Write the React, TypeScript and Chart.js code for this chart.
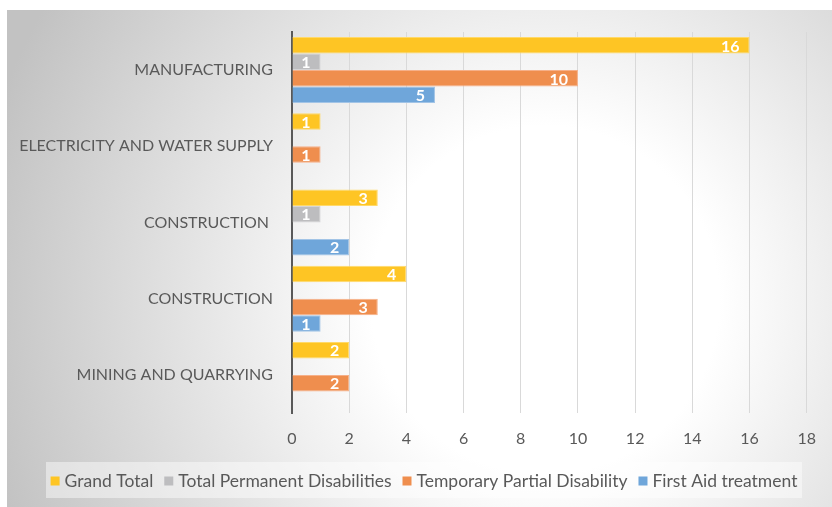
import React, { useEffect, useRef } from "react";
import { Chart, registerables } from "chart.js";

Chart.register(...registerables);

const categories = [
  "MANUFACTURING",
  "ELECTRICITY AND WATER SUPPLY",
  "CONSTRUCTION ",
  "CONSTRUCTION",
  "MINING AND QUARRYING",
];
const seriesNames = [
  "Grand Total",
  "Total Permanent Disabilities",
  "Temporary Partial Disability",
  "First Aid treatment",
];
const grandTotal = [16, 1, 3, 4, 2];
const totalPermanent = [1, null, 1, null, null];
const temporaryPartial = [10, 1, null, 3, 2];
const firstAid = [5, null, 2, 1, null];
const xTicks = [0, 2, 4, 6, 8, 10, 12, 14, 16, 18];

const colors = ["#FEC524", "#BDBDBF", "#EF8E4E", "#6FA6DA"];
const borders = ["#FFD969", "#D4D4D6", "#F6B089", "#A2C4E6"];
const FONT = "Lato, 'Open Sans', sans-serif";

const bgPlugin = {
  id: "bg",
  beforeDraw(chart: any) {
    const { ctx, width, height } = chart;
    ctx.save();
    ctx.fillStyle = "#ffffff";
    ctx.fillRect(0, 0, width, height);
    const x0 = 7, y0 = 10;
    const g = ctx.createRadialGradient(545, 300, 0, 545, 300, 580);
    g.addColorStop(0, "#ffffff");
    g.addColorStop(0.3, "#ffffff");
    g.addColorStop(1, "#c2c2c2");
    ctx.fillStyle = g;
    ctx.fillRect(x0, y0, width - x0, height - y0);
    ctx.restore();
  },
};

const labelPlugin = {
  id: "barLabels",
  afterDatasetsDraw(chart: any) {
    const { ctx } = chart;
    ctx.save();
    ctx.font = `bold 16px ${FONT}`;
    ctx.fillStyle = "#ffffff";
    ctx.textAlign = "right";
    ctx.textBaseline = "middle";
    chart.data.datasets.forEach((ds: any, di: number) => {
      const meta = chart.getDatasetMeta(di);
      meta.data.forEach((el: any, i: number) => {
        const v = ds.data[i];
        if (v === null || v === undefined) return;
        ctx.fillText(String(v), el.x - 10, el.y + 1);
      });
    });
    ctx.restore();
  },
};

const legendPlugin = {
  id: "customLegend",
  afterDraw(chart: any) {
    const { ctx } = chart;
    ctx.save();
    const bx = 46, by = 462, bw = 756, bh = 36;
    ctx.fillStyle = "rgba(255,255,255,0.45)";
    ctx.fillRect(bx, by, bw, bh);
    ctx.font = `17.5px ${FONT}`;
    const box = 9, gapText = 5, gapItem = 11;
    const widths = seriesNames.map((n) => ctx.measureText(n).width);
    const total =
      widths.reduce((a, b) => a + b, 0) +
      seriesNames.length * (box + gapText) +
      (seriesNames.length - 1) * gapItem;
    let x = bx + bw / 2 - total / 2;
    const cy = by + bh / 2;
    ctx.textBaseline = "middle";
    ctx.textAlign = "left";
    seriesNames.forEach((n, i) => {
      ctx.fillStyle = colors[i];
      ctx.fillRect(x, cy - box / 2 + 1, box, box);
      x += box + gapText;
      ctx.fillStyle = "#595959";
      ctx.fillText(n, x, cy + 1);
      x += widths[i] + gapItem;
    });
    ctx.restore();
  },
};

export default function App() {
  const ref = useRef<HTMLCanvasElement>(null);
  useEffect(() => {
    const series = [grandTotal, totalPermanent, temporaryPartial, firstAid];
    const chart = new Chart(ref.current!, {
      type: "bar",
      data: {
        labels: categories,
        datasets: series.map((d, i) => ({
          label: seriesNames[i],
          data: d,
          backgroundColor: colors[i],
          borderColor: borders[i],
          borderWidth: 1,
          barPercentage: 1,
          categoryPercentage: 0.866,
        })),
      },
      options: {
        indexAxis: "y",
        animation: false,
        responsive: false,
        maintainAspectRatio: false,
        layout: { padding: { left: 0, right: 21, top: 32, bottom: 54 } },
        plugins: {
          legend: { display: false },
          tooltip: { enabled: false },
        },
        scales: {
          x: {
            min: 0,
            max: 18,
            afterBuildTicks: (s: any) => {
              s.ticks = xTicks.map((v) => ({ value: v }));
            },
            afterFit: (s: any) => {
              s.height = 40;
            },
            grid: { color: "#D9D9D9", lineWidth: 1, drawTicks: false },
            border: { display: false },
            ticks: {
              color: "#595959",
              font: { family: FONT, size: 16 },
              padding: 16,
            },
          },
          y: {
            afterFit: (s: any) => {
              s.width = 292;
            },
            grid: { display: false, drawTicks: false },
            border: { display: true, color: "#595959", width: 2 },
            ticks: {
              color: "#595959",
              font: { family: FONT, size: 16 },
              padding: 19,
            },
          },
        },
      },
      plugins: [bgPlugin, labelPlugin, legendPlugin],
    } as any);
    return () => chart.destroy();
  }, []);
  return (
    <div style={{ position: "fixed", left: 0, top: 0, width: 832, height: 507 }}>
      <canvas ref={ref} width={832} height={507} style={{ width: 832, height: 507 }} />
    </div>
  );
}
